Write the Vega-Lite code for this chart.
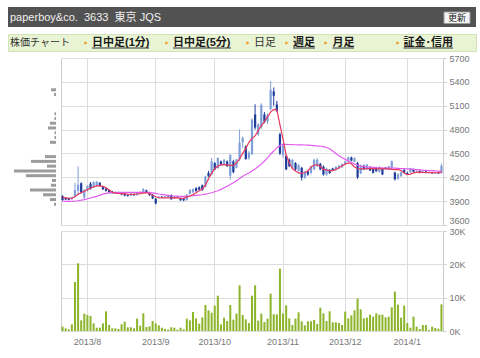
{
"$schema":"https://vega.github.io/schema/vega-lite/v6.json",
"background":"white",
"padding":{"left":7,"top":7,"right":0,"bottom":0},
"config":{"font":"Liberation Sans, Noto Sans CJK JP, sans-serif","view":{"stroke":"#cccccc"},"axis":{"labelFont":"Liberation Sans","labelFontSize":9,"labelColor":"#777777","gridColor":"#dddddd","gridWidth":1,"domain":false,"tickColor":"#cccccc"}},
"datasets":{
"px":[
{"d":"2013-07-22","o":3965,"h":3975,"l":3905,"c":3915,"v":1300,"m5":3948,"m25":3897},
{"d":"2013-07-23","o":3940,"h":3950,"l":3915,"c":3920,"v":800,"m5":3942,"m25":3897},
{"d":"2013-07-24","o":3935,"h":3945,"l":3910,"c":3915,"v":500,"m5":3935,"m25":3897},
{"d":"2013-07-25","o":3925,"h":3955,"l":3915,"c":3948,"v":2000,"m5":3938,"m25":3898},
{"d":"2013-07-26","o":3960,"h":4130,"l":3950,"c":4040,"v":14700,"m5":3955,"m25":3900},
{"d":"2013-07-29","o":4030,"h":4337,"l":3985,"c":4105,"v":20300,"m5":3985,"m25":3905},
{"d":"2013-07-30","o":4125,"h":4135,"l":3995,"c":4010,"v":3200,"m5":4005,"m25":3912},
{"d":"2013-07-31","o":3945,"h":4050,"l":3930,"c":4040,"v":5200,"m5":4025,"m25":3920},
{"d":"2013-08-01","o":4030,"h":4100,"l":4020,"c":4090,"v":4800,"m5":4045,"m25":3930},
{"d":"2013-08-02","o":4120,"h":4140,"l":4045,"c":4055,"v":4500,"m5":4065,"m25":3940},
{"d":"2013-08-05","o":4075,"h":4150,"l":4065,"c":4140,"v":2300,"m5":4080,"m25":3950},
{"d":"2013-08-06","o":4095,"h":4150,"l":4080,"c":4145,"v":1000,"m5":4092,"m25":3960},
{"d":"2013-08-07","o":4130,"h":4140,"l":4080,"c":4090,"v":1000,"m5":4094,"m25":3975},
{"d":"2013-08-08","o":4080,"h":4090,"l":4040,"c":4050,"v":2300,"m5":4085,"m25":3988},
{"d":"2013-08-09","o":4060,"h":4070,"l":4020,"c":4030,"v":5900,"m5":4068,"m25":3998},
{"d":"2013-08-12","o":4040,"h":4050,"l":4000,"c":4010,"v":1800,"m5":4040,"m25":4003},
{"d":"2013-08-13","o":4020,"h":4030,"l":3995,"c":4000,"v":800,"m5":4012,"m25":4006},
{"d":"2013-08-14","o":4010,"h":4020,"l":3990,"c":3995,"v":800,"m5":4000,"m25":4008},
{"d":"2013-08-15","o":3995,"h":4020,"l":3990,"c":4010,"v":600,"m5":3996,"m25":4010},
{"d":"2013-08-16","o":4005,"h":4010,"l":3975,"c":3985,"v":2000,"m5":3994,"m25":4010},
{"d":"2013-08-19","o":3995,"h":4000,"l":3960,"c":3970,"v":2800,"m5":3992,"m25":4011},
{"d":"2013-08-20","o":3975,"h":3985,"l":3955,"c":3965,"v":1100,"m5":3988,"m25":4011},
{"d":"2013-08-21","o":3968,"h":4000,"l":3960,"c":3995,"v":1100,"m5":3985,"m25":4011},
{"d":"2013-08-22","o":3990,"h":3998,"l":3965,"c":3975,"v":800,"m5":3985,"m25":4011},
{"d":"2013-08-23","o":3975,"h":4015,"l":3970,"c":4010,"v":3700,"m5":3990,"m25":4011},
{"d":"2013-08-26","o":4000,"h":4025,"l":3995,"c":4015,"v":1600,"m5":3995,"m25":4011},
{"d":"2013-08-27","o":4015,"h":4065,"l":4005,"c":4050,"v":5300,"m5":4002,"m25":4011},
{"d":"2013-08-28","o":4035,"h":4045,"l":4005,"c":4010,"v":1200,"m5":4005,"m25":4011},
{"d":"2013-08-29","o":4010,"h":4015,"l":3965,"c":3975,"v":1400,"m5":3995,"m25":4010},
{"d":"2013-08-30","o":3980,"h":3990,"l":3925,"c":3935,"v":3000,"m5":3975,"m25":4005},
{"d":"2013-09-02","o":3930,"h":3940,"l":3860,"c":3870,"v":2300,"m5":3955,"m25":3998},
{"d":"2013-09-03","o":3940,"h":3965,"l":3935,"c":3955,"v":1700,"m5":3945,"m25":3990},
{"d":"2013-09-04","o":3955,"h":3965,"l":3940,"c":3950,"v":1000,"m5":3940,"m25":3984},
{"d":"2013-09-05","o":3950,"h":3970,"l":3945,"c":3960,"v":600,"m5":3940,"m25":3978},
{"d":"2013-09-06","o":3960,"h":3970,"l":3950,"c":3955,"v":400,"m5":3940,"m25":3973},
{"d":"2013-09-09","o":3975,"h":3985,"l":3915,"c":3925,"v":1100,"m5":3942,"m25":3968},
{"d":"2013-09-10","o":3935,"h":3965,"l":3930,"c":3960,"v":1000,"m5":3945,"m25":3965},
{"d":"2013-09-11","o":3955,"h":3960,"l":3940,"c":3945,"v":400,"m5":3940,"m25":3962},
{"d":"2013-09-12","o":3940,"h":3945,"l":3905,"c":3910,"v":1000,"m5":3935,"m25":3961},
{"d":"2013-09-13","o":3930,"h":3940,"l":3900,"c":3910,"v":500,"m5":3938,"m25":3961},
{"d":"2013-09-17","o":3915,"h":3990,"l":3905,"c":3980,"v":3700,"m5":3950,"m25":3962},
{"d":"2013-09-18","o":3990,"h":4050,"l":3985,"c":4040,"v":3200,"m5":3965,"m25":3965},
{"d":"2013-09-19","o":4010,"h":4060,"l":4000,"c":4050,"v":5700,"m5":3982,"m25":3968},
{"d":"2013-09-20","o":4065,"h":4075,"l":4020,"c":4025,"v":3800,"m5":4005,"m25":3972},
{"d":"2013-09-24","o":4075,"h":4085,"l":4040,"c":4045,"v":2200,"m5":4030,"m25":3976},
{"d":"2013-09-25","o":4100,"h":4110,"l":4030,"c":4040,"v":4100,"m5":4050,"m25":3980},
{"d":"2013-09-26","o":4085,"h":4220,"l":4075,"c":4210,"v":7800,"m5":4100,"m25":3988},
{"d":"2013-09-27","o":4255,"h":4280,"l":4205,"c":4212,"v":6200,"m5":4180,"m25":3996},
{"d":"2013-09-30","o":4235,"h":4443,"l":4225,"c":4400,"v":5500,"m5":4250,"m25":4006},
{"d":"2013-10-01","o":4380,"h":4390,"l":4290,"c":4296,"v":7600,"m5":4310,"m25":4018},
{"d":"2013-10-02","o":4317,"h":4450,"l":4305,"c":4443,"v":10600,"m5":4340,"m25":4030},
{"d":"2013-10-03","o":4400,"h":4410,"l":4350,"c":4360,"v":2000,"m5":4355,"m25":4048},
{"d":"2013-10-04","o":4360,"h":4430,"l":4350,"c":4420,"v":4000,"m5":4360,"m25":4068},
{"d":"2013-10-07","o":4400,"h":4410,"l":4330,"c":4340,"v":3000,"m5":4355,"m25":4088},
{"d":"2013-10-08","o":4220,"h":4490,"l":4170,"c":4480,"v":7800,"m5":4350,"m25":4110},
{"d":"2013-10-09","o":4400,"h":4420,"l":4250,"c":4265,"v":3400,"m5":4350,"m25":4130},
{"d":"2013-10-10","o":4320,"h":4430,"l":4310,"c":4425,"v":5200,"m5":4380,"m25":4155},
{"d":"2013-10-11","o":4425,"h":4800,"l":4405,"c":4635,"v":13700,"m5":4430,"m25":4185},
{"d":"2013-10-15","o":4640,"h":4710,"l":4570,"c":4695,"v":4800,"m5":4500,"m25":4212},
{"d":"2013-10-16","o":4590,"h":4600,"l":4420,"c":4430,"v":3500,"m5":4560,"m25":4235},
{"d":"2013-10-17","o":4440,"h":4530,"l":4420,"c":4510,"v":2400,"m5":4640,"m25":4255},
{"d":"2013-10-18","o":4490,"h":4940,"l":4480,"c":4925,"v":10600,"m5":4690,"m25":4280},
{"d":"2013-10-21","o":4990,"h":5117,"l":4800,"c":4825,"v":13700,"m5":4720,"m25":4305},
{"d":"2013-10-22","o":4740,"h":4880,"l":4720,"c":4865,"v":3100,"m5":4790,"m25":4335},
{"d":"2013-10-23","o":4830,"h":5130,"l":4810,"c":5110,"v":5200,"m5":4850,"m25":4365},
{"d":"2013-10-24","o":4990,"h":5020,"l":4880,"c":4900,"v":2700,"m5":4900,"m25":4405},
{"d":"2013-10-25","o":4900,"h":5000,"l":4870,"c":4980,"v":3700,"m5":4960,"m25":4445},
{"d":"2013-10-28","o":5060,"h":5410,"l":5040,"c":5300,"v":11200,"m5":5020,"m25":4490},
{"d":"2013-10-29","o":5280,"h":5330,"l":5100,"c":5225,"v":5000,"m5":5055,"m25":4530},
{"d":"2013-10-30","o":5115,"h":5160,"l":5020,"c":5035,"v":5000,"m5":5050,"m25":4572},
{"d":"2013-10-31","o":4740,"h":4760,"l":4480,"c":4500,"v":18700,"m5":4860,"m25":4598},
{"d":"2013-11-01","o":4480,"h":4630,"l":4450,"c":4600,"v":5300,"m5":4680,"m25":4612},
{"d":"2013-11-05","o":4470,"h":4480,"l":4290,"c":4300,"v":7700,"m5":4480,"m25":4614},
{"d":"2013-11-06","o":4420,"h":4440,"l":4330,"c":4340,"v":3800,"m5":4380,"m25":4612},
{"d":"2013-11-07","o":4320,"h":4430,"l":4300,"c":4420,"v":1800,"m5":4310,"m25":4610},
{"d":"2013-11-08","o":4380,"h":4390,"l":4280,"c":4300,"v":3700,"m5":4280,"m25":4609},
{"d":"2013-11-11","o":4280,"h":4370,"l":4270,"c":4355,"v":5600,"m5":4255,"m25":4608},
{"d":"2013-11-12","o":4320,"h":4330,"l":4160,"c":4195,"v":2900,"m5":4250,"m25":4607},
{"d":"2013-11-13","o":4195,"h":4280,"l":4180,"c":4270,"v":1700,"m5":4260,"m25":4606},
{"d":"2013-11-14","o":4275,"h":4290,"l":4220,"c":4235,"v":2900,"m5":4280,"m25":4605},
{"d":"2013-11-15","o":4255,"h":4345,"l":4240,"c":4335,"v":2900,"m5":4330,"m25":4602},
{"d":"2013-11-18","o":4300,"h":4430,"l":4290,"c":4420,"v":3300,"m5":4352,"m25":4598},
{"d":"2013-11-19","o":4340,"h":4440,"l":4330,"c":4420,"v":2100,"m5":4360,"m25":4594},
{"d":"2013-11-20","o":4370,"h":4380,"l":4290,"c":4300,"v":7000,"m5":4335,"m25":4590},
{"d":"2013-11-21","o":4335,"h":4350,"l":4220,"c":4235,"v":5300,"m5":4300,"m25":4585},
{"d":"2013-11-22","o":4235,"h":4320,"l":4220,"c":4310,"v":3000,"m5":4290,"m25":4575},
{"d":"2013-11-25","o":4295,"h":4300,"l":4240,"c":4255,"v":5900,"m5":4285,"m25":4560},
{"d":"2013-11-26","o":4310,"h":4320,"l":4280,"c":4285,"v":2600,"m5":4285,"m25":4530},
{"d":"2013-11-27","o":4295,"h":4340,"l":4280,"c":4330,"v":2600,"m5":4300,"m25":4500},
{"d":"2013-11-28","o":4310,"h":4355,"l":4300,"c":4345,"v":2400,"m5":4320,"m25":4470},
{"d":"2013-11-29","o":4325,"h":4375,"l":4315,"c":4365,"v":1800,"m5":4345,"m25":4445},
{"d":"2013-12-02","o":4370,"h":4410,"l":4360,"c":4400,"v":5800,"m5":4365,"m25":4425},
{"d":"2013-12-03","o":4400,"h":4460,"l":4390,"c":4450,"v":3800,"m5":4380,"m25":4405},
{"d":"2013-12-04","o":4450,"h":4460,"l":4400,"c":4410,"v":4700,"m5":4370,"m25":4385},
{"d":"2013-12-05","o":4395,"h":4450,"l":4390,"c":4440,"v":6200,"m5":4330,"m25":4368},
{"d":"2013-12-06","o":4380,"h":4395,"l":4180,"c":4200,"v":9700,"m5":4310,"m25":4352},
{"d":"2013-12-09","o":4250,"h":4360,"l":4240,"c":4350,"v":6500,"m5":4305,"m25":4340},
{"d":"2013-12-10","o":4345,"h":4360,"l":4290,"c":4300,"v":3800,"m5":4305,"m25":4335},
{"d":"2013-12-11","o":4300,"h":4370,"l":4290,"c":4360,"v":4000,"m5":4308,"m25":4330},
{"d":"2013-12-12","o":4325,"h":4340,"l":4280,"c":4285,"v":4900,"m5":4310,"m25":4327},
{"d":"2013-12-13","o":4325,"h":4330,"l":4250,"c":4255,"v":4300,"m5":4308,"m25":4325},
{"d":"2013-12-16","o":4320,"h":4330,"l":4270,"c":4275,"v":5300,"m5":4306,"m25":4322},
{"d":"2013-12-17","o":4270,"h":4340,"l":4260,"c":4325,"v":4900,"m5":4305,"m25":4320},
{"d":"2013-12-18","o":4310,"h":4320,"l":4230,"c":4235,"v":4900,"m5":4305,"m25":4318},
{"d":"2013-12-19","o":4320,"h":4330,"l":4300,"c":4305,"v":4100,"m5":4306,"m25":4317},
{"d":"2013-12-20","o":4295,"h":4345,"l":4290,"c":4338,"v":4300,"m5":4305,"m25":4316},
{"d":"2013-12-24","o":4320,"h":4410,"l":4310,"c":4400,"v":7100,"m5":4300,"m25":4315},
{"d":"2013-12-25","o":4260,"h":4270,"l":4160,"c":4175,"v":11800,"m5":4296,"m25":4314},
{"d":"2013-12-26","o":4180,"h":4250,"l":4170,"c":4240,"v":7900,"m5":4300,"m25":4312},
{"d":"2013-12-27","o":4215,"h":4275,"l":4205,"c":4265,"v":4000,"m5":4285,"m25":4310},
{"d":"2013-12-30","o":4295,"h":4300,"l":4250,"c":4258,"v":7600,"m5":4255,"m25":4308},
{"d":"2014-01-06","o":4255,"h":4270,"l":4230,"c":4240,"v":2400,"m5":4233,"m25":4305},
{"d":"2014-01-07","o":4265,"h":4320,"l":4255,"c":4315,"v":1000,"m5":4240,"m25":4302},
{"d":"2014-01-08","o":4300,"h":4310,"l":4265,"c":4270,"v":4300,"m5":4255,"m25":4299},
{"d":"2014-01-09","o":4270,"h":4290,"l":4260,"c":4280,"v":1300,"m5":4262,"m25":4296},
{"d":"2014-01-10","o":4280,"h":4290,"l":4250,"c":4258,"v":600,"m5":4265,"m25":4293},
{"d":"2014-01-14","o":4262,"h":4285,"l":4255,"c":4275,"v":1800,"m5":4262,"m25":4290},
{"d":"2014-01-15","o":4275,"h":4280,"l":4250,"c":4255,"v":1800,"m5":4260,"m25":4288},
{"d":"2014-01-16","o":4255,"h":4275,"l":4250,"c":4268,"v":300,"m5":4258,"m25":4285},
{"d":"2014-01-17","o":4265,"h":4270,"l":4245,"c":4250,"v":1300,"m5":4258,"m25":4283},
{"d":"2014-01-20","o":4250,"h":4270,"l":4245,"c":4265,"v":900,"m5":4257,"m25":4280},
{"d":"2014-01-21","o":4260,"h":4265,"l":4240,"c":4248,"v":700,"m5":4258,"m25":4278},
{"d":"2014-01-22","o":4260,"h":4370,"l":4245,"c":4345,"v":8000,"m5":4262,"m25":4275}
],
"hist":[
{"p":3860,"v":2000},{"p":3920,"v":6000},{"p":3980,"v":13000},{"p":4040,"v":26000},{"p":4100,"v":5000},
{"p":4160,"v":4000},{"p":4220,"v":30000},{"p":4280,"v":42000},{"p":4340,"v":9000},{"p":4400,"v":25000},
{"p":4460,"v":11000},{"p":4640,"v":6000},{"p":4700,"v":1500},{"p":4760,"v":1500},{"p":4820,"v":8000},
{"p":4880,"v":6000},{"p":4940,"v":1500},{"p":5000,"v":1500},{"p":5240,"v":2000},{"p":5300,"v":5000}
]
},
"spacing":7,
"bounds":"flush",
"vconcat":[
{
"width":468,"height":20,
"view":{"fill":"#525252","stroke":null},
"data":{"values":[{}]},
"layer":[
{"mark":{"type":"text","text":"paperboy&co.\u00a0\u00a03633\u00a0\u00a0東京\u00a0JQS","align":"left","baseline":"middle","fontSize":11,"color":"#f0f0f0"},"encoding":{"x":{"value":2},"y":{"value":10.5}}},
{"mark":{"type":"rect","fill":"#f4f4f4","stroke":"#999999","strokeWidth":1},"encoding":{"x":{"value":436},"x2":{"value":462},"y":{"value":5},"y2":{"value":16.5}}},
{"mark":{"type":"text","text":"更新","align":"center","baseline":"middle","fontSize":9,"color":"#222222"},"encoding":{"x":{"value":449},"y":{"value":11}}}
]
},
{
"width":468,"height":17,
"view":{"fill":"#e9f4d4","stroke":"#d3e3b8"},
"data":{"values":[{}]},
"layer":[
{"mark":{"type":"text","text":"株価チャート","align":"left","baseline":"middle","fontSize":10,"color":"#333333"},"encoding":{"x":{"value":2},"y":{"value":9}}},
{"mark":{"type":"point","shape":"triangle-right","size":14,"filled":true,"color":"#f29b1d","opacity":1},"encoding":{"x":{"value":78},"y":{"value":9}}},
{"mark":{"type":"point","shape":"triangle-right","size":14,"filled":true,"color":"#f29b1d","opacity":1},"encoding":{"x":{"value":159},"y":{"value":9}}},
{"mark":{"type":"point","shape":"triangle-right","size":14,"filled":true,"color":"#f29b1d","opacity":1},"encoding":{"x":{"value":240},"y":{"value":9}}},
{"mark":{"type":"point","shape":"triangle-right","size":14,"filled":true,"color":"#f29b1d","opacity":1},"encoding":{"x":{"value":279},"y":{"value":9}}},
{"mark":{"type":"point","shape":"triangle-right","size":14,"filled":true,"color":"#f29b1d","opacity":1},"encoding":{"x":{"value":318},"y":{"value":9}}},
{"mark":{"type":"point","shape":"triangle-right","size":14,"filled":true,"color":"#f29b1d","opacity":1},"encoding":{"x":{"value":390},"y":{"value":9}}},
{"mark":{"type":"text","text":"日中足(1分)","align":"left","baseline":"middle","fontSize":11,"fontWeight":"bold","color":"#1a1a1a"},"encoding":{"x":{"value":84},"y":{"value":9}}},
{"mark":{"type":"text","text":"日中足(5分)","align":"left","baseline":"middle","fontSize":11,"fontWeight":"bold","color":"#1a1a1a"},"encoding":{"x":{"value":165},"y":{"value":9}}},
{"mark":{"type":"text","text":"日足","align":"left","baseline":"middle","fontSize":11,"color":"#333333"},"encoding":{"x":{"value":246},"y":{"value":9}}},
{"mark":{"type":"text","text":"週足","align":"left","baseline":"middle","fontSize":11,"fontWeight":"bold","color":"#1a1a1a"},"encoding":{"x":{"value":285},"y":{"value":9}}},
{"mark":{"type":"text","text":"月足","align":"left","baseline":"middle","fontSize":11,"fontWeight":"bold","color":"#1a1a1a"},"encoding":{"x":{"value":324.5},"y":{"value":9}}},
{"mark":{"type":"text","text":"証金･信用","align":"left","baseline":"middle","fontSize":11,"fontWeight":"bold","color":"#1a1a1a"},"encoding":{"x":{"value":395.5},"y":{"value":9}}},
{"mark":{"type":"rule","color":"#333333","strokeWidth":1},"encoding":{"x":{"value":84},"x2":{"value":141},"y":{"value":14}}},
{"mark":{"type":"rule","color":"#333333","strokeWidth":1},"encoding":{"x":{"value":165},"x2":{"value":223},"y":{"value":14}}},
{"mark":{"type":"rule","color":"#333333","strokeWidth":1},"encoding":{"x":{"value":285},"x2":{"value":307},"y":{"value":14}}},
{"mark":{"type":"rule","color":"#333333","strokeWidth":1},"encoding":{"x":{"value":324.5},"x2":{"value":346},"y":{"value":14}}},
{"mark":{"type":"rule","color":"#333333","strokeWidth":1},"encoding":{"x":{"value":395.5},"x2":{"value":445},"y":{"value":14}}}
]
},
{
"spacing":5,
"bounds":"flush",
"hconcat":[
{
"width":48,"height":167,
"view":{"stroke":null},
"data":{"name":"hist"},
"mark":{"type":"rule","strokeWidth":3,"color":"#9b9b9b"},
"encoding":{
"y":{"field":"p","type":"quantitative","scale":{"domain":[3600,5700],"nice":false,"zero":false},"axis":null},
"x":{"field":"v","type":"quantitative","scale":{"domain":[0,48000],"reverse":true,"nice":false},"axis":null},
"x2":{"datum":0}
}
},
{
"spacing":6,
"bounds":"flush",
"vconcat":[
{
"width":382,"height":167,
"data":{"name":"px"},
"encoding":{
"x":{"field":"d","type":"ordinal","scale":{"paddingInner":0,"paddingOuter":0},"axis":{"values":["2013-08-01","2013-09-02","2013-10-01","2013-11-01","2013-12-02","2014-01-06"],"labels":false,"ticks":false,"grid":true,"bandPosition":0.5,"title":null}}
},
"layer":[
{"mark":{"type":"rule","strokeWidth":1},"encoding":{
"y":{"field":"l","type":"quantitative","title":null,"scale":{"domain":[3600,5700],"nice":false,"zero":false},"axis":{"orient":"right","values":[3600,3900,4200,4500,4800,5100,5400,5700],"tickCount":8,"format":"d","labelOverlap":false,"labelBaseline":{"condition":{"test":"datum.value == 3600","value":"bottom"},"value":"middle"},"grid":true,"ticks":true,"tickSize":3,"labelPadding":3,"title":null}},
"y2":{"field":"h"},
"color":{"condition":{"test":"datum.c >= datum.o","value":"#7f9fd8"},"value":"#1f3e9c"}}},
{"mark":{"type":"bar","width":{"band":0.72}},"encoding":{
"y":{"field":"o","type":"quantitative","title":null,"axis":{"orient":"right","values":[3600,3900,4200,4500,4800,5100,5400,5700],"tickCount":8,"format":"d","labelOverlap":false,"labelBaseline":{"condition":{"test":"datum.value == 3600","value":"bottom"},"value":"middle"},"grid":true,"ticks":true,"tickSize":3,"labelPadding":3,"title":null}},
"y2":{"field":"c"},
"color":{"condition":{"test":"datum.c >= datum.o","value":"#7f9fd8"},"value":"#1f3e9c"}}},
{"mark":{"type":"line","color":"#e35cf0","strokeWidth":1.2},"encoding":{"y":{"field":"m25","type":"quantitative","title":null,"axis":{"orient":"right","values":[3600,3900,4200,4500,4800,5100,5400,5700],"tickCount":8,"format":"d","labelOverlap":false,"labelBaseline":{"condition":{"test":"datum.value == 3600","value":"bottom"},"value":"middle"},"grid":true,"ticks":true,"tickSize":3,"labelPadding":3,"title":null}}}},
{"mark":{"type":"line","color":"#e8385e","strokeWidth":1.2},"encoding":{"y":{"field":"m5","type":"quantitative","title":null,"axis":{"orient":"right","values":[3600,3900,4200,4500,4800,5100,5400,5700],"tickCount":8,"format":"d","labelOverlap":false,"labelBaseline":{"condition":{"test":"datum.value == 3600","value":"bottom"},"value":"middle"},"grid":true,"ticks":true,"tickSize":3,"labelPadding":3,"title":null}}}}
]
},
{
"width":382,"height":100,
"data":{"name":"px"},
"mark":{"type":"bar","width":{"band":0.65},"color":"#8cb52c"},
"encoding":{
"x":{"field":"d","type":"ordinal","scale":{"paddingInner":0,"paddingOuter":0},"axis":{"values":["2013-08-01","2013-09-02","2013-10-01","2013-11-01","2013-12-02","2014-01-06"],"labelExpr":"slice(datum.value,0,4) + '/' + toNumber(slice(datum.value,5,7))","ticks":false,"grid":true,"bandPosition":0.5,"labelPadding":6,"labelAngle":0,"title":null}},
"y":{"field":"v","type":"quantitative","scale":{"domain":[0,30000],"nice":false},"axis":{"orient":"right","values":[0,10000,20000,30000],"labelExpr":"datum.value/1000 + 'K'","labelOverlap":false,"grid":true,"ticks":true,"tickSize":3,"labelPadding":3,"title":null}}
}
}
]
}
]
}
]
}
